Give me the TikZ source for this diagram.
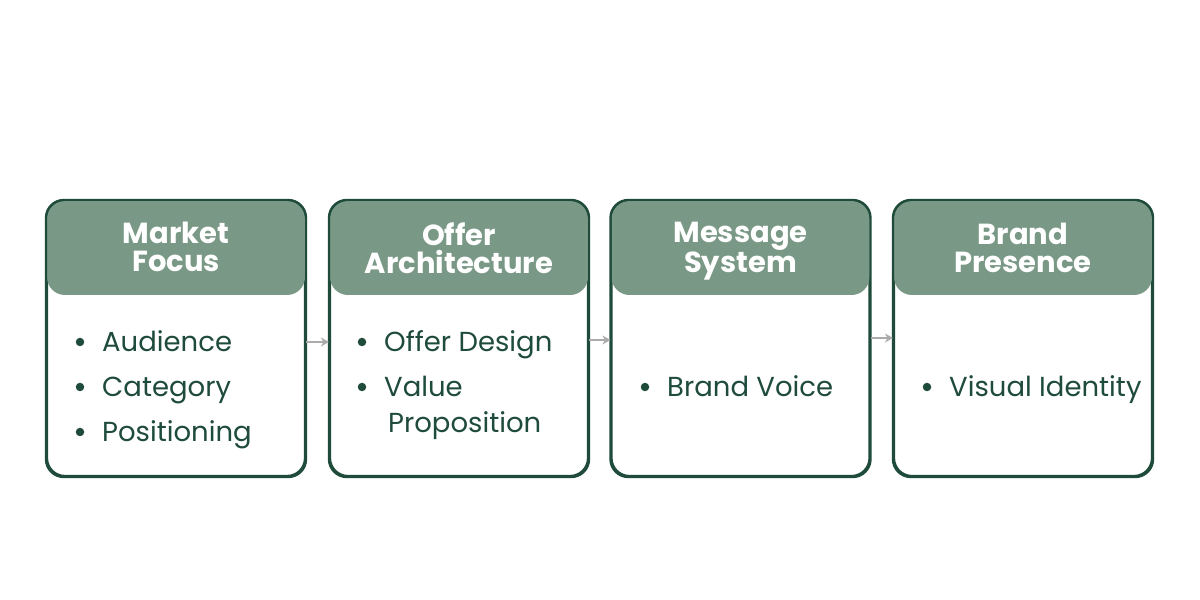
\documentclass[tikz,border=0pt]{standalone}
\usepackage{fontspec}
\setmainfont{Poppins}
\usetikzlibrary{arrows.meta}
\definecolor{dk}{HTML}{1F4B3B}
\definecolor{hd}{HTML}{7A9886}
\definecolor{ar}{HTML}{ABABAB}
\tikzset{
  box/.style={draw=dk, line width=2.2pt, rounded corners=18pt, fill=white, minimum width=258pt, minimum height=275pt, inner sep=0pt},
  head/.style={fill=hd, rounded corners=18pt, minimum width=258pt, minimum height=94pt, inner sep=0pt},
  ttl/.style={text=white, font=\fontsize{29}{28}\selectfont\bfseries, align=center, inner sep=0pt},
  itm/.style={text=dk, font=\fontsize{27.5}{30}\selectfont, anchor=base west, inner sep=0pt},
  dot/.style={circle, fill=dk, minimum size=8.5pt, inner sep=0pt},
  arr/.style={draw=ar, line width=2.2pt, -{Stealth[length=8pt,width=9pt]}}
}
\begin{document}
\begin{tikzpicture}[x=1pt,y=1pt]
\useasboundingbox (0,0) rectangle (1200,600);
% boxes
\foreach \n/\cx in {1/176,2/459,3/740.5,4/1023}{
  \node[box] (b\n) at (\cx,261.5) {};
  \node[head] (h\n) at (\cx,352) {};
  \draw[draw=dk, line width=2.2pt, rounded corners=18pt] (b\n.south west) rectangle (b\n.north east);
}
% titles
\node[ttl] (t1) at (176,353) {Market\\Focus};
\node[ttl] (t2) at (459,352) {Offer\\Architecture};
\node[ttl] (t3) at (740.5,349) {Message\\System};
\node[ttl] (t4) at (1023,352) {Brand\\Presence};
% box 1 items
\node[dot] (d11) at (80,258) {};
\node[itm] (i11) at (102,248) {Audience};
\node[dot] (d12) at (80,213) {};
\node[itm] (i12) at (102,203) {Category};
\node[dot] (d13) at (80,168) {};
\node[itm] (i13) at (102,158) {Positioning};
% box 2 items
\node[dot] (d21) at (362,258) {};
\node[itm] (i21) at (384,248) {Offer Design};
\node[dot] (d22) at (362,213) {};
\node[itm] (i22) at (384,203) {Value};
\node[itm] (i23) at (388,167) {Proposition};
% box 3 items
\node[dot] (d31) at (645,213) {};
\node[itm] (i31) at (667,203) {Brand Voice};
% box 4 items
\node[dot] (d41) at (927,213) {};
\node[itm] (i41) at (949,203) {Visual Identity};
% arrows
\draw[arr] ([yshift=-3.5pt]b1.east) -- ([yshift=-3.5pt]b2.west);
\draw[arr] ([yshift=-1.5pt]b2.east) -- ([yshift=-1.5pt]b3.west);
\draw[arr] ([yshift=0.5pt]b3.east) -- ([yshift=0.5pt]b4.west);
\end{tikzpicture}
\end{document}
